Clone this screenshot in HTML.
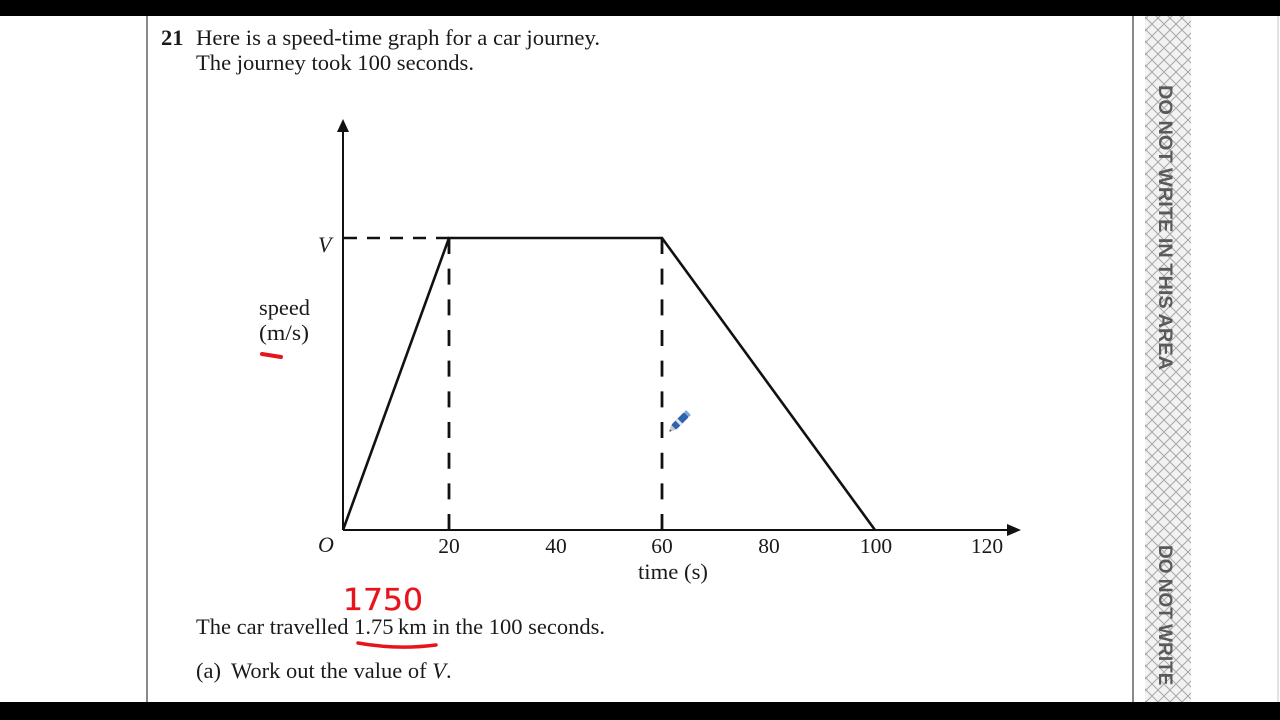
<!DOCTYPE html>
<html>
<head>
<meta charset="utf-8">
<style>
  html, body { margin:0; padding:0; background:#fff; width:1280px; height:720px; overflow:hidden; }
  svg { display:block; }
</style>
</head>
<body>
<svg width="1280" height="720" viewBox="0 0 1280 720" xmlns="http://www.w3.org/2000/svg">
  <defs>
    <pattern id="hatch" width="12" height="12" patternUnits="userSpaceOnUse">
      <rect width="12" height="12" fill="#f2f2f2"/>
      <path d="M0,0 L12,12 M12,0 L0,12" stroke="#a8a8a8" stroke-width="1" fill="none"/>
      <path d="M-6,6 L0,12 M6,-6 L12,0 M6,18 L18,6 M-6,6 L6,-6" stroke="#a8a8a8" stroke-width="1" fill="none"/>
    </pattern>
    <clipPath id="stripclip">
      <rect x="1140" y="16" width="60" height="686"/>
    </clipPath>
  </defs>

  <rect x="0" y="0" width="1280" height="720" fill="#ffffff"/>

  <!-- margin lines -->
  <line x1="147" y1="16" x2="147" y2="702" stroke="#8a8a8a" stroke-width="2"/>
  <line x1="1133" y1="16" x2="1133" y2="702" stroke="#8a8a8a" stroke-width="2"/>
  <line x1="1278" y1="16" x2="1278" y2="702" stroke="#c8c8c8" stroke-width="1"/>

  <!-- hatched strip -->
  <rect x="1145" y="16" width="46" height="686" fill="url(#hatch)"/>
  <g clip-path="url(#stripclip)">
    <text transform="translate(1159,85) rotate(90)" font-family="'Liberation Sans', 'DejaVu Sans', sans-serif" font-weight="bold" font-size="19" fill="#5a5a5a" textLength="285" lengthAdjust="spacingAndGlyphs">DO NOT WRITE IN THIS AREA</text>
    <text transform="translate(1159,545) rotate(90)" font-family="'Liberation Sans', 'DejaVu Sans', sans-serif" font-weight="bold" font-size="19" fill="#5a5a5a">DO NOT WRITE</text>
  </g>

  <!-- question text -->
  <g font-family="'Liberation Serif', 'DejaVu Serif', serif" fill="#1a1a1a">
    <text x="161" y="45" font-size="22.5" font-weight="bold">21</text>
    <text x="196" y="45" font-size="22.5" textLength="404" lengthAdjust="spacingAndGlyphs">Here is a speed-time graph for a car journey.</text>
    <text x="196" y="70" font-size="22.5" textLength="278" lengthAdjust="spacingAndGlyphs">The journey took 100 seconds.</text>

    <text x="196" y="634" font-size="22.5" textLength="409" lengthAdjust="spacingAndGlyphs">The car travelled 1.75&#8201;km in the 100 seconds.</text>
    <text x="196" y="678" font-size="22.5">(a)</text>
    <text x="231" y="678" font-size="22.5">Work out the value of <tspan font-style="italic">V</tspan>.</text>

    <text x="318" y="252" font-size="22" font-style="italic">V</text>
    <text x="259" y="315" font-size="22" textLength="51" lengthAdjust="spacingAndGlyphs">speed</text>
    <text x="259" y="340" font-size="22" textLength="50" lengthAdjust="spacingAndGlyphs">(m/s)</text>
    <text x="318" y="552" font-size="22" font-style="italic">O</text>

    <g font-size="21.5" text-anchor="middle">
      <text x="449" y="553">20</text>
      <text x="556" y="553">40</text>
      <text x="662" y="553">60</text>
      <text x="769" y="553">80</text>
      <text x="876" y="553">100</text>
      <text x="987" y="553">120</text>
    </g>
    <text x="638" y="579" font-size="22" textLength="70" lengthAdjust="spacingAndGlyphs">time (s)</text>
  </g>

  <!-- axes -->
  <g stroke="#111" stroke-width="2" fill="none">
    <line x1="343" y1="530" x2="343" y2="130"/>
    <line x1="343" y1="530" x2="1008" y2="530"/>
  </g>
  <polygon points="343,119 337,132 349,132" fill="#111"/>
  <polygon points="1021,530 1007,524 1007,536" fill="#111"/>

  <!-- dashed guide lines -->
  <line x1="344" y1="238" x2="449" y2="238" stroke="#111" stroke-width="2.5" stroke-dasharray="13 10"/>
  <line x1="449" y1="238" x2="449" y2="530" stroke="#111" stroke-width="2.8" stroke-dasharray="16 14.67"/>
  <line x1="662" y1="238" x2="662" y2="530" stroke="#111" stroke-width="2.8" stroke-dasharray="16 14.67"/>

  <!-- speed-time graph -->
  <polyline points="343,530 449,238 662,238 875,530" fill="none" stroke="#111" stroke-width="2.6" stroke-linejoin="miter"/>

  <!-- pencil cursor -->
  <g transform="translate(680,421) rotate(-45)">
    <rect x="-9" y="-3.5" width="18" height="7" rx="1.5" fill="#2f62b0"/>
    <rect x="-3" y="-3.5" width="3" height="7" fill="#d9e4f5"/>
    <rect x="9" y="-3.5" width="3" height="7" rx="1" fill="#7fa0d8"/>
    <polygon points="-9,-3.5 -15,0 -9,3.5" fill="#c9c9c9"/>
    <polygon points="-13,-1.2 -15,0 -13,1.2" fill="#333"/>
  </g>

  <!-- red annotations -->
  <text x="343" y="610" font-family="'DejaVu Sans', 'Liberation Sans', sans-serif" font-size="30" fill="#e8141c" stroke="#e8141c" stroke-width="0.3" textLength="80" lengthAdjust="spacingAndGlyphs">1750</text>
  <path d="M262,354 L281,357" stroke="#e8141c" stroke-width="4" stroke-linecap="round" fill="none"/>
  <path d="M358,643 Q397,650 436,645" stroke="#e8141c" stroke-width="3.5" stroke-linecap="round" fill="none"/>

  <!-- black bars -->
  <rect x="0" y="0" width="1280" height="16" fill="#000"/>
  <rect x="0" y="702" width="1280" height="18" fill="#000"/>
</svg>
</body>
</html>
